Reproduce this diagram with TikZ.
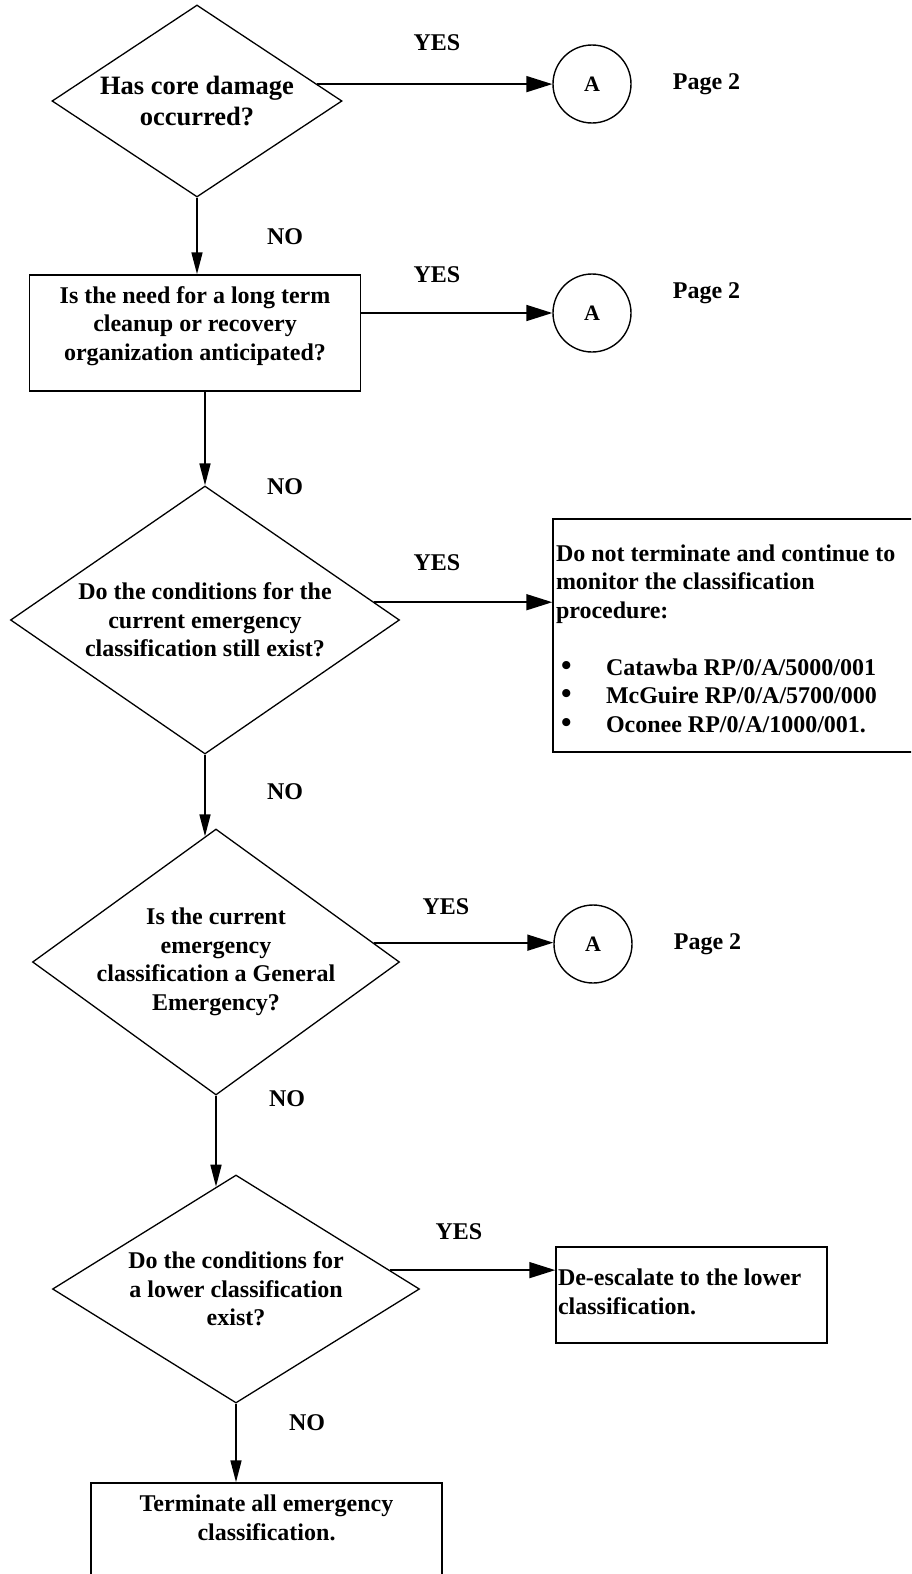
\documentclass[tikz,border=0pt]{standalone}
\usepackage{fontspec}
\setmainfont{Liberation Serif}
\usepackage{tikz}
\usetikzlibrary{positioning, arrows.meta, shapes.geometric}

\newcommand{\chartfont}{\fontsize{24}{28.5}\selectfont\bfseries}
\newcommand{\bigchartfont}{\fontsize{26.5}{31}\selectfont\bfseries}
\newcommand{\itembullet}{\makebox[45pt][l]{\fontsize{30}{28.5}\selectfont\textbullet}}

\begin{document}
\begin{tikzpicture}[x=1pt, y=-1pt, node distance=41pt and 41pt]

	% Styles
	\tikzset{
		question/.style={
			diamond, draw, line width=1.3pt, inner sep=-12pt,
			align=center, font=\chartfont
		},
		action/.style={
			rectangle, draw, line width=1.5pt, inner sep=0pt, font=\chartfont
		},
		connector/.style={
			circle, draw, line width=1.4pt, minimum size=78pt, inner sep=0pt,
			font=\fontsize{22}{24}\selectfont\bfseries
		},
		answer/.style={inner sep=0pt, font=\chartfont},
		arrow/.style={line width=1.7pt, -{Triangle[length=22pt, width=11pt]}},
		sidearrow/.style={line width=1.7pt, -{Triangle[length=26pt, width=16pt]}}
	}

	% Page frame
	\useasboundingbox (0,0) rectangle (911,1574);
	\clip (0,0) rectangle (911,1574);

	% Core damage
	\node (q1) [question, font=\bigchartfont, minimum width=290pt, minimum height=192pt, shape aspect=1.51] at (197,101) {Has core damage\\occurred?};
	\node (a1) [connector] at (592,84) {A};
	\node (page1) [answer, right=of a1] {Page 2};

	% Recovery organization
	\node (q2) [action, minimum width=331pt, minimum height=116pt] at (195,333)
		{\parbox[c][93pt][t]{320pt}{\centering Is the need for a long term\\cleanup or recovery\\organization anticipated?}};
	\node (a2) [connector] at (592,313) {A};
	\node (page2) [answer, right=of a2, yshift=20pt] {Page 2};

	% Current classification
	\node (q3) [question, minimum width=389pt, minimum height=268pt, shape aspect=1.45] at (205,620) {Do the conditions for the\\current emergency\\classification still exist?};
	\node (stay) [action, minimum width=360pt, minimum height=233pt] at (733,635.5)
		{\parbox[c][182pt][t]{354pt}{\raggedright Do not terminate and continue to\\monitor the classification\\procedure:\\[28.5pt]
		\hspace*{5pt}\itembullet Catawba RP/0/A/5000/001\\
		\hspace*{5pt}\itembullet McGuire RP/0/A/5700/000\\
		\hspace*{5pt}\itembullet Oconee RP/0/A/1000/001.}};

	% General emergency
	\node (q4) [question, minimum width=367pt, minimum height=266pt, shape aspect=1.38] at (216,962) {Is the current\\emergency\\classification a General\\Emergency?};
	\node (a3) [connector] at (593,944) {A};
	\node (page3) [answer, right=of a3] {Page 2};

	% Lower classification
	\node (q5) [question, minimum width=367pt, minimum height=228pt, shape aspect=1.61] at (236,1289) {Do the conditions for\\a lower classification\\exist?};
	\node (lower) [action, minimum width=271pt, minimum height=96pt] at (691.5,1295)
		{\parbox[c][52pt][t]{267pt}{\raggedright De-escalate to the lower\\classification.}};

	% Terminate
	\node (term) [action, minimum width=351pt, minimum height=117pt] at (266.5,1541.5)
		{\parbox[c][93pt][t]{330pt}{\centering Terminate all emergency\\classification.}};

	% Answer labels
	\node (yes1) [answer] at (437,43) {YES};
	\node (yes2) [answer] at (437,275) {YES};
	\node (yes3) [answer] at (437,563) {YES};
	\node (yes4) [answer] at (446,907) {YES};
	\node (yes5) [answer] at (459,1232) {YES};
	\node (no1) [answer] at (285,237) {NO};
	\node (no2) [answer] at (285,487) {NO};
	\node (no3) [answer] at (285,792) {NO};
	\node (no4) [answer] at (287,1099) {NO};
	\node (no5) [answer] at (307,1423) {NO};

	% Arrows: YES branches
	\draw[sidearrow] (q1.8) -- (q1.8 -| a1.west);
	\draw[sidearrow] ([yshift=20pt]q2.east) -- (a2.west);
	\draw[sidearrow] (q3.6) -- (q3.6 -| stay.west);
	\draw[sidearrow] (q4.7) -- (q4.7 -| a3.west);
	\draw[sidearrow] (q5.7) -- (q5.7 -| lower.west);

	% Arrows: NO branches
	\draw[arrow] (q1.south) -- (q1.south |- q2.north);
	\draw[arrow] (q3.north |- q2.south) -- (q3.north);
	\draw[arrow] (q3.south) -- (q3.south |- q4.95);
	\draw[arrow] (q4.south) -- (q4.south |- q5.101);
	\draw[arrow] (q5.south) -- (q5.south |- term.north);

\end{tikzpicture}
\end{document}
